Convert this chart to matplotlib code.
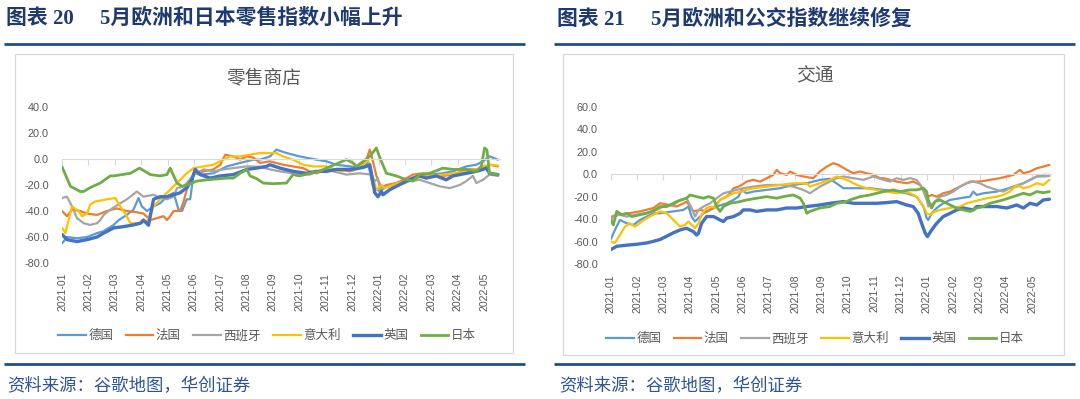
import matplotlib
matplotlib.use("Agg")
import matplotlib.pyplot as plt
from matplotlib.lines import Line2D
from matplotlib.patches import Rectangle

# ---------------- data (x = months since 2021-01-01) ----------------
month_labels = ["2021-01", "2021-02", "2021-03", "2021-04", "2021-05", "2021-06",
                "2021-07", "2021-08", "2021-09", "2021-10", "2021-11", "2021-12",
                "2022-01", "2022-02", "2022-03", "2022-04", "2022-05"]
series_names = ["德国", "法国", "西班牙", "意大利", "英国", "日本"]

# Retail (零售商店)
retail_de_x = [0, 0.19, 0.57, 0.95, 1.33, 1.58, 1.96, 2.15, 2.46, 2.71, 2.90, 3.03, 3.22, 3.47, 3.72, 3.98, 4.23, 4.42, 4.55, 4.73, 4.86, 4.99, 5.24, 5.74, 6.25, 6.75, 7.26, 7.51, 7.89, 8.13, 8.51, 9.01, 9.65, 10.03, 10.40, 10.91, 11.41, 11.60, 11.79, 12.05, 12.30, 12.68, 13.06, 13.31, 13.56, 13.94, 14.44, 14.82, 15.33, 15.71, 15.96, 16.21, 16.53]
retail_de_y = [-65, -60, -61, -60, -57, -55.5, -50.7, -47, -43, -39, -30, -36.5, -40, -36.5, -34, -29, -26, -39, -40, -31, -31, -11, -12, -11, -5.7, -3, -0.5, -0.5, 2, 7.2, 4.6, 2, -0.5, -1.8, -4.4, -5.7, -7, -3, -21, -25, -21, -18.5, -17, -14.7, -12, -12, -11, -9.5, -5.7, -4.4, -1.8, 2, -0.5]
retail_fr_x = [0, 0.19, 0.38, 0.69, 0.95, 1.33, 1.70, 2.08, 2.46, 2.84, 3.09, 3.35, 3.60, 3.85, 3.98, 4.10, 4.23, 4.48, 4.61, 4.73, 4.99, 5.37, 5.74, 6.00, 6.19, 6.50, 6.75, 7.01, 7.26, 7.50, 7.88, 8.38, 8.76, 9.14, 9.39, 9.65, 10.03, 10.40, 10.91, 11.29, 11.54, 11.67, 11.73, 11.92, 12.11, 12.30, 12.68, 13.06, 13.31, 13.69, 14.07, 14.44, 14.82, 15.33, 15.71, 15.96, 16.21, 16.53]
retail_fr_y = [-40, -44, -39, -40, -42, -43, -40, -38, -40, -41, -42, -47, -45.5, -44, -47, -44, -40, -40, -32.7, -23.7, -12, -9.5, -8, -4.4, 3.3, 2, -0.5, 2, 1, -3, -1.8, -4.4, -5.7, -7, -9.5, -11, -8, -8, -9.5, -7, -0.5, 7.2, 3.3, -13, -22, -20, -18.5, -14.7, -12, -11, -12, -13, -12, -8, -8, -7, -4.4, -5.7]
retail_es_x = [0, 0.19, 0.38, 0.57, 0.82, 1.07, 1.33, 1.45, 1.58, 1.83, 2.21, 2.46, 2.84, 3.09, 3.47, 3.72, 3.98, 4.23, 4.36, 4.61, 4.73, 4.99, 5.37, 5.74, 6.12, 6.50, 7.01, 7.50, 7.88, 8.26, 8.76, 9.39, 9.90, 10.28, 10.78, 11.29, 11.73, 11.86, 11.98, 12.05, 12.11, 12.42, 12.80, 13.18, 13.56, 13.94, 14.32, 14.70, 15.08, 15.33, 15.58, 15.71, 15.96, 16.21, 16.53]
retail_es_y = [-30, -29, -36.5, -45.5, -49.4, -50.7, -49.4, -47, -43, -39, -34, -31, -25, -29, -27.5, -30, -31, -29, -22.4, -21, -18.5, -12, -8, -9.5, -8, -7, -5.7, -6, -8, -9.5, -11, -12, -8, -9.5, -12, -11, -12, -17, -15, -25, -22.4, -21, -20, -17, -16, -18.5, -21, -22.4, -20, -17, -13, -18.5, -16, -12, -13]
retail_it_x = [0, 0.13, 0.25, 0.38, 0.63, 0.76, 0.95, 1.07, 1.26, 1.70, 2.02, 2.21, 2.40, 2.59, 2.97, 3.22, 3.47, 3.72, 3.98, 4.10, 4.23, 4.48, 4.73, 4.99, 5.37, 5.74, 6.12, 6.38, 6.75, 7.12, 7.50, 8.13, 8.38, 8.76, 9.14, 9.52, 10.03, 10.53, 10.91, 11.16, 11.41, 11.60, 11.92, 12.11, 12.23, 12.42, 12.74, 13.06, 13.43, 13.94, 14.44, 14.95, 15.33, 15.71, 15.96, 16.21, 16.53]
retail_it_y = [-53, -57, -47, -36.5, -40, -44, -42, -35, -32.7, -31, -30, -36.5, -42, -49.4, -49.4, -48, -36.5, -31, -26, -23.7, -21, -16, -11, -7, -5.7, -4.4, -0.5, 2, 2, 3.3, 4.6, 4.6, 2, -0.5, -4.4, -5.7, -5.7, -9.5, -8, -7, -4.4, -0.5, -23.7, -20, -22.4, -21, -18.5, -17, -14.7, -13, -12, -11, -9.5, -8, -5.7, -4.4, -5]
retail_uk_x = [0, 0.19, 0.57, 0.95, 1.33, 1.58, 1.96, 2.34, 2.71, 2.97, 3.09, 3.28, 3.47, 3.72, 3.98, 4.23, 4.48, 4.73, 4.92, 5.05, 5.24, 5.62, 6.00, 6.50, 7.01, 7.37, 7.75, 7.88, 8.26, 8.76, 9.27, 9.65, 10.03, 10.40, 10.91, 11.29, 11.54, 11.67, 11.86, 11.98, 12.11, 12.17, 12.42, 12.68, 13.06, 13.31, 13.56, 13.81, 14.19, 14.57, 14.82, 15.08, 15.33, 15.71, 15.96, 16.09, 16.21, 16.53]
retail_uk_y = [-58, -62, -63.5, -62, -60, -57, -53, -52, -50.7, -49.4, -47, -51, -31, -29, -29, -27.5, -26, -22, -16, -8, -12, -14.7, -13, -12, -8, -7, -5.7, -4.4, -7, -9.5, -11, -9.5, -9.5, -8, -8, -7, -5.7, -4.4, -26, -29, -25, -27.5, -23.7, -21, -17, -14.7, -13, -14.7, -13, -16, -13, -12, -11, -9.5, -8, -7, -11, -12]
retail_jp_x = [0, 0.32, 0.69, 0.82, 1.07, 1.45, 1.83, 1.96, 2.59, 2.94, 3.35, 3.72, 3.98, 4.10, 4.36, 4.55, 4.73, 5.11, 5.49, 6.25, 6.50, 6.75, 7.01, 7.13, 7.37, 7.63, 8.00, 8.51, 8.76, 9.01, 9.39, 9.77, 10.03, 10.78, 11.04, 11.16, 11.41, 11.67, 11.92, 12.05, 12.30, 12.68, 13.06, 13.31, 13.56, 13.94, 14.44, 14.82, 15.33, 15.71, 15.90, 16.02, 16.11, 16.21, 16.53]
retail_jp_y = [-6, -21, -25, -25, -22, -18.5, -13, -13, -11, -7, -12, -13, -12, -7, -18.5, -21, -20, -17, -16, -14.7, -14.7, -11, -8, -13, -15, -18.5, -19, -18.5, -12, -13, -11, -9.5, -7, -0.5, -3, -5.7, -2, 2, 8.5, 1, -11, -13, -16, -17, -12, -11, -7, -8, -8, -9.5, -5.7, 8.5, 7, -11, -12]

# Transit (交通)
transit_de_x = [0, 0.16, 0.35, 0.61, 0.86, 1.11, 1.37, 1.62, 1.87, 2.38, 2.76, 2.95, 3.07, 3.20, 3.33, 3.52, 3.77, 4.02, 4.40, 4.66, 4.85, 4.97, 5.16, 5.41, 5.92, 6.43, 6.93, 7.44, 7.94, 8.32, 8.83, 9.34, 9.84, 10.35, 10.85, 11.23, 11.61, 11.87, 11.99, 12.05, 12.18, 12.37, 12.62, 12.88, 13.26, 13.64, 13.76, 13.89, 14.14, 14.65, 14.90, 15.28, 15.66, 15.91, 16.17, 16.42, 16.65]
transit_de_y = [-58, -49.5, -40.6, -43.6, -45, -40.6, -37.6, -34.7, -34.7, -33, -31.7, -28.7, -37.6, -42, -39, -34.7, -31.7, -28.7, -25.8, -22.8, -19.9, -13.9, -16.9, -15.4, -13.9, -12.4, -9.5, -8, -5, -4, -12.4, -12.4, -12.4, -13.9, -15.4, -16.9, -19.9, -28.7, -39, -40.6, -34.7, -30, -25.8, -22.8, -21.3, -19.9, -15.4, -18.4, -16.9, -15.4, -13.9, -11, -8, -5, -2, -0.6, -0.6]
transit_fr_x = [0, 0.23, 0.61, 1.11, 1.62, 1.87, 2.25, 2.50, 2.76, 2.88, 3.01, 3.14, 3.39, 3.64, 3.90, 4.15, 4.40, 4.53, 4.66, 4.85, 4.97, 5.16, 5.41, 5.67, 5.92, 6.17, 6.30, 6.43, 6.68, 6.81, 7.06, 7.31, 7.69, 7.94, 8.20, 8.45, 8.64, 8.96, 9.21, 9.46, 9.71, 9.97, 10.22, 10.35, 10.60, 10.85, 11.23, 11.48, 11.74, 11.93, 12.05, 12.18, 12.37, 12.62, 12.88, 13.13, 13.38, 13.64, 14.01, 14.39, 14.77, 15.03, 15.28, 15.53, 15.66, 15.91, 16.17, 16.42, 16.65]
transit_fr_y = [-38, -36, -35, -33, -30, -25.8, -27.3, -28.7, -25.8, -24.3, -28.7, -33, -31.7, -33, -30, -22.8, -19.9, -16.9, -12.4, -11, -9.5, -6.5, -5, -6.5, -3.5, -0.6, 3.9, 0.9, -0.6, 2.4, -0.6, -2, -3.5, 2.4, 6.8, 9.8, 8.3, 3.9, 0.9, 2.4, 0.9, -0.6, -3.5, -3.5, -5, -6.5, -8, -6.5, -9.5, -16.9, -19.9, -18.4, -19.9, -16.9, -15.4, -12.4, -9.5, -6.5, -6.5, -5, -3.5, -2, -0.6, 3.9, 0.9, 2.4, 5.3, 6.8, 8.3]
transit_es_x = [0, 0.10, 0.35, 0.61, 1.24, 1.62, 2.00, 2.38, 2.63, 2.88, 3.07, 3.20, 3.33, 3.52, 3.77, 4.02, 4.28, 4.53, 4.78, 5.03, 5.41, 5.92, 6.43, 6.93, 7.31, 7.56, 7.94, 8.32, 8.58, 8.83, 9.21, 9.59, 9.97, 10.35, 10.60, 10.85, 11.10, 11.36, 11.61, 11.80, 11.99, 12.05, 12.24, 12.50, 12.75, 13.00, 13.26, 13.51, 13.76, 14.01, 14.27, 14.65, 14.90, 15.15, 15.41, 15.66, 15.91, 16.17, 16.42, 16.65]
transit_es_y = [-42, -37.6, -36, -37.6, -34.7, -33, -28.7, -27.3, -22.8, -21.3, -30, -37.6, -31.7, -28.7, -25.8, -21.3, -16.9, -15.4, -13.9, -12.4, -11, -9.5, -9.5, -11, -13.9, -16.9, -11, -6.5, -3.5, -2, -3.5, -5, -2, -5, -6.5, -3.5, -5, -3.5, -5, -11, -22.8, -28.7, -25.8, -19.9, -18.4, -15.4, -11, -8, -6.5, -8, -11, -13.9, -15.4, -12.4, -11, -8, -5, -2, -2, -1.5]
transit_it_x = [0, 0.16, 0.35, 0.54, 0.73, 0.92, 1.18, 1.37, 1.62, 1.87, 2.13, 2.38, 2.63, 2.82, 2.95, 3.20, 3.33, 3.45, 3.64, 3.83, 3.96, 4.15, 4.40, 4.66, 4.97, 5.16, 5.41, 5.92, 6.43, 6.93, 7.44, 7.56, 7.94, 8.32, 8.58, 8.96, 9.34, 9.71, 10.09, 10.47, 10.85, 11.10, 11.36, 11.61, 11.87, 11.99, 12.12, 12.31, 12.50, 12.88, 13.26, 13.51, 13.76, 14.01, 14.27, 14.65, 14.90, 15.15, 15.41, 15.66, 15.91, 16.17, 16.42, 16.65]
transit_it_y = [-60, -61, -54, -46.5, -43.6, -46.5, -42, -39, -36, -33, -34.7, -40.6, -46.5, -45, -42, -48, -43.6, -36, -30, -28.7, -30, -22.8, -19.9, -16.9, -15.4, -13.9, -12.4, -11, -9.5, -8, -8, -11, -8, -5, -2, -5, -9.5, -12.4, -13.9, -15.4, -16.9, -15.4, -16.9, -19.9, -28.7, -34.7, -36, -33, -31.7, -30, -28.7, -25.8, -24.3, -22.8, -21.3, -19.9, -18.4, -15.4, -9.5, -12.4, -11, -8, -9.5, -5]
transit_uk_x = [0, 0.23, 0.61, 0.99, 1.37, 1.62, 1.87, 2.13, 2.38, 2.63, 2.88, 3.01, 3.14, 3.26, 3.33, 3.45, 3.64, 3.90, 4.02, 4.15, 4.28, 4.40, 4.66, 4.91, 5.03, 5.29, 5.54, 5.92, 6.30, 6.68, 7.06, 7.44, 7.94, 8.32, 8.83, 9.21, 9.59, 10.09, 10.47, 10.85, 11.23, 11.48, 11.67, 11.80, 11.93, 12.02, 12.18, 12.37, 12.62, 12.88, 13.13, 13.38, 13.76, 13.89, 14.14, 14.65, 15.03, 15.41, 15.66, 15.91, 16.17, 16.42, 16.65]
transit_uk_y = [-67, -64, -63, -62.2, -61, -59.6, -58, -55, -52, -49.5, -48, -49.5, -51, -54, -52.5, -43.6, -37.6, -37.6, -39, -40.6, -42, -39, -37.6, -34.7, -31.7, -31.7, -33, -31.7, -31.7, -30, -30, -28.7, -27.3, -25.8, -24.3, -25.8, -25.8, -25.8, -25.2, -24.3, -27.3, -28.7, -34.7, -43.6, -52, -55.4, -49.5, -43.6, -37.6, -34.7, -31.7, -30, -31.7, -28.7, -28.7, -28.7, -30, -27.3, -30, -25.8, -27.3, -22.8, -22.2]
transit_jp_x = [0, 0.10, 0.23, 0.42, 0.61, 0.80, 1.11, 1.37, 1.68, 1.87, 2.13, 2.50, 2.88, 3.01, 3.26, 3.52, 3.71, 3.90, 4.02, 4.15, 4.28, 4.53, 4.91, 5.16, 5.54, 5.92, 6.30, 6.55, 6.93, 7.19, 7.31, 7.44, 7.56, 7.94, 8.32, 8.58, 8.96, 9.08, 9.46, 9.84, 10.09, 10.35, 10.73, 10.98, 11.36, 11.61, 11.87, 11.99, 12.05, 12.18, 12.31, 12.50, 12.62, 12.88, 13.13, 13.38, 13.64, 13.89, 14.14, 14.39, 14.65, 14.90, 15.28, 15.66, 15.91, 16.17, 16.42, 16.65]
transit_jp_y = [-40.6, -45, -33, -36, -34.7, -37.6, -36, -34.7, -31.7, -28.7, -28.7, -24.3, -21.3, -18.4, -19.9, -21.3, -19.9, -21.3, -28.7, -33, -28.7, -25.8, -24.3, -22.8, -21.3, -19.9, -21.3, -19.9, -18.4, -21.3, -25.8, -34.7, -33, -30, -28.7, -25.8, -24.3, -22.8, -19.9, -18.4, -16.9, -15.4, -13.9, -15.4, -13.9, -13.9, -12.4, -15.4, -22.8, -30, -24.3, -22.8, -24.3, -27.3, -30, -31.7, -33, -30, -28.7, -25.8, -24.3, -22.8, -19.9, -16.9, -18.4, -15.4, -16.4, -15.4]

retail_yticks = [-80, -60, -40, -20, 0, 20, 40]
transit_yticks = [-80, -60, -40, -20, 0, 20, 40, 60]

# ---------------- style ----------------
W, H = 1080, 399
colors = ["#5B9BD5", "#ED7D31", "#A5A5A5", "#FFC000", "#4472C4", "#70AD47"]
widths = [1.6, 1.6, 1.6, 1.6, 2.4, 2.0]
TXT = "#595959"
NAVY = "#1F3A70"
RULE = "#1F4E8F"
SANS = ["Liberation Sans", "Noto Sans CJK SC", "DejaVu Sans"]
plt.rcParams["font.family"] = SANS

fig = plt.figure(figsize=(W / 100, H / 100), dpi=100)


def px_axes(x0, y0, x1, y1):
    return fig.add_axes([x0 / W, 1 - y1 / H, (x1 - x0) / W, (y1 - y0) / H])


def fig_line(x0, x1, y):
    fig.add_artist(Line2D([x0 / W, x1 / W], [1 - y / H, 1 - y / H], transform=fig.transFigure,
                          color=RULE, lw=2.0, solid_capstyle="butt"))


def fig_box(x0, y0, x1, y1):
    fig.add_artist(Rectangle((x0 / W, 1 - y1 / H), (x1 - x0) / W, (y1 - y0) / H,
                             transform=fig.transFigure, fill=False, ec="#D9D9D9", lw=0.9))


def draw_chart(ax, xs, ys, yticks, xmax, ypad):
    for x, y, c, w in zip(xs, ys, colors, widths):
        ax.plot(x, y, color=c, lw=w, solid_joinstyle="round", solid_capstyle="round")
    ax.set_xlim(0, xmax)
    ax.set_ylim(yticks[0], yticks[-1])
    for s in ["top", "right", "left"]:
        ax.spines[s].set_visible(False)
    ax.spines["bottom"].set_position(("data", 0))
    ax.spines["bottom"].set_color("#D9D9D9")
    ax.spines["bottom"].set_linewidth(0.8)
    ticks = list(range(len(month_labels)))
    ax.set_xticks(ticks)
    ax.tick_params(axis="x", length=4, width=0.8, color="#D9D9D9", labelbottom=False)
    ax.set_yticks(yticks)
    ax.set_yticklabels([f"{v:.1f}" for v in yticks])
    ax.tick_params(axis="y", length=0, pad=ypad, labelsize=7.8, labelcolor=TXT)
    sec = ax.secondary_xaxis(0.0)
    sec.set_xticks(ticks)
    sec.set_xticklabels(month_labels)
    sec.tick_params(length=0, pad=7, labelsize=7.6, labelcolor=TXT, labelrotation=90)
    sec.spines["bottom"].set_visible(False)
    ax.patch.set_alpha(0)


# panel frames
fig_line(4, 525, 44)
fig_line(4, 525, 364)
fig_line(554, 1075, 44)
fig_line(554, 1075, 364)
fig_box(15, 54, 513, 353)
fig_box(563, 54, 1064, 355)

# header titles
title_font = dict(fontsize=15, fontweight="bold", color=NAVY, va="center", ha="left",
                  family=["Liberation Serif", "Noto Sans CJK SC"])
fig.text(6 / W, 1 - 19 / H, "图表 20     5月欧洲和日本零售指数小幅上升", **title_font)
fig.text(557 / W, 1 - 19 / H, "图表 21     5月欧洲和公交指数继续修复", **title_font)

src_font = dict(fontsize=12.5, color="#2F5597", va="center", ha="left", style="italic",
                family=["Noto Sans CJK SC"])
fig.text(7 / W, 1 - 386 / H, "资料来源：谷歌地图，华创证券", **src_font)
fig.text(559 / W, 1 - 386 / H, "资料来源：谷歌地图，华创证券", **src_font)

# chart 1: retail
ax1 = px_axes(62, 107, 62 + 16.6 * 26.375, 263)
draw_chart(ax1,
           [retail_de_x, retail_fr_x, retail_es_x, retail_it_x, retail_uk_x, retail_jp_x],
           [retail_de_y, retail_fr_y, retail_es_y, retail_it_y, retail_uk_y, retail_jp_y],
           retail_yticks, 16.6, 9.5)
fig.text(264 / W, 1 - 78 / H, "零售商店", fontsize=13.5, color=TXT, ha="center", va="center")

# chart 2: transit
ax2 = px_axes(610.7, 106.7, 610.7 + 16.7 * 26.35, 264.3)
draw_chart(ax2,
           [transit_de_x, transit_fr_x, transit_es_x, transit_it_x, transit_uk_x, transit_jp_x],
           [transit_de_y, transit_fr_y, transit_es_y, transit_it_y, transit_uk_y, transit_jp_y],
           transit_yticks, 16.7, 9.2)
fig.text(815 / W, 1 - 77 / H, "交通", fontsize=13.5, color=TXT, ha="center", va="center")

# legends
handles = [Line2D([], [], color=c, lw=w) for c, w in zip(colors, widths)]
for cx, cy in [(267, 336), (815, 339)]:
    fig.legend(handles, series_names, loc="center", bbox_to_anchor=(cx / W, 1 - cy / H),
               ncol=6, frameon=False, fontsize=9, labelcolor=TXT, handlelength=2.2,
               handletextpad=0.2, columnspacing=1.0, borderpad=0, borderaxespad=0)

fig.savefig("out.png", dpi=100)
